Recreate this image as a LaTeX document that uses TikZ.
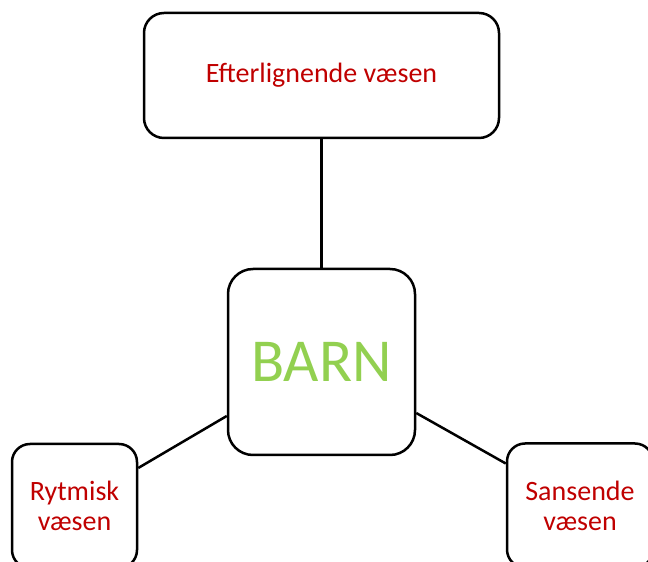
\documentclass[tikz,border=0pt]{standalone}
\usepackage{fontspec}
\setmainfont{Carlito}
\definecolor{lblred}{RGB}{192,0,0}
\definecolor{barngreen}{RGB}{146,208,80}
\begin{document}
\begin{tikzpicture}[x=1pt,y=1pt,
  box/.style={draw=black,line width=2.5pt,fill=white,rounded corners=#1,inner sep=0pt},
  lbl/.style={text=lblred,font=\fontsize{28}{30}\selectfont,align=center},
  conn/.style={line width=2.5pt,black}]
\useasboundingbox (0,0) rectangle (648,562);
\clip (0,0) rectangle (648,562);
\node[box=20pt,minimum width=355pt,minimum height=125pt,lbl] (top) at (321.5,486.5) {Efterlignende væsen};
\node[box=25pt,minimum width=187pt,minimum height=186pt,text=barngreen,font=\fontsize{61}{62}\selectfont] (barn) at (321.5,200) {BARN};
\node[box=18pt,minimum width=125pt,minimum height=124pt,lbl] (left) at (74.5,56) {Rytmisk\\væsen};
\node[box=18pt,minimum width=146pt,minimum height=124pt,lbl] (right) at (580,56.5) {Sansende\\væsen};
\draw[conn] (top.south) -- (barn.north);
\draw[conn] ([yshift=-54pt]barn.west) -- ([yshift=38pt]left.east);
\draw[conn] ([yshift=-51pt]barn.east) -- ([yshift=42pt]right.west);
\end{tikzpicture}
\end{document}
